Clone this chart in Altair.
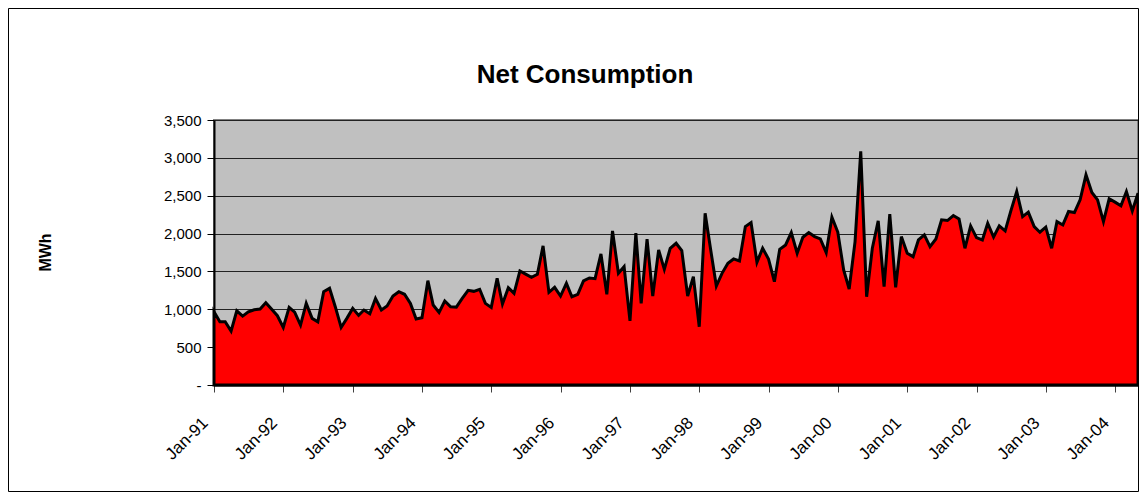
import altair as alt
import pandas as pd

# Monthly net consumption (MWh), Jan-1991 .. May-2004
values = [
    967, 835, 835, 712, 980, 910, 967, 994, 1003, 1087, 999, 915,          # 1991
    760, 1025, 963, 791, 1078, 880, 835, 1232, 1277, 1034, 760, 880,        # 1992
    1012, 920, 990, 940, 1144, 990, 1043, 1175, 1232, 1198, 1078, 871,      # 1993
    888, 1378, 1056, 959, 1109, 1034, 1029, 1144, 1250, 1237, 1264, 1078,   # 1994
    1025, 1410, 1069, 1285, 1211, 1506, 1465, 1423, 1462, 1837, 1224, 1290, # 1995
    1175, 1343, 1166, 1198, 1374, 1413, 1404, 1731, 1198, 2035, 1475, 1563, # 1996
    848, 2005, 1078, 1925, 1175, 1784, 1528, 1806, 1872, 1775, 1175, 1431,  # 1997
    769, 2269, 1806, 1307, 1475, 1608, 1665, 1638, 2092, 2145, 1621, 1806,  # 1998
    1665, 1364, 1793, 1850, 2013, 1740, 1952, 2013, 1960, 1929, 1748, 2216, # 1999
    2020, 1519, 1268, 1894, 3085, 1166, 1806, 2168, 1298, 2256, 1290, 1960, # 2000
    1740, 1695, 1916, 1982, 1828, 1929, 2181, 2172, 2238, 2194, 1806, 2101, # 2001
    1947, 1916, 2137, 1955, 2101, 2035, 2300, 2555, 2224, 2283, 2092, 2018, # 2002
    2084, 1806, 2158, 2114, 2291, 2277, 2445, 2776, 2542, 2445, 2158, 2459, # 2003
    2415, 2366, 2555, 2300, 2534,                                           # 2004
]
months = (
    pd.date_range("1991-01-01", periods=len(values), freq="MS")
    .strftime("%Y-%m-%dT00:00:00")
    .tolist()
)
tick_years = list(range(1991, 2005))
y_ticks = [0, 500, 1000, 1500, 2000, 2500, 3000, 3500]
title_text = "Net Consumption"
y_title = "MWh"

FONT = "Liberation Sans"

df = pd.DataFrame({"month": months, "mwh": values})

x_enc = alt.X(
    "month:T",
    scale=alt.Scale(
        domain=[
            alt.DateTime(year=1991, month=1, date=1),
            alt.DateTime(year=2004, month=5, date=1),
        ],
        nice=False,
    ),
    axis=alt.Axis(
        values=[alt.DateTime(year=y, month=1, date=1) for y in tick_years],
        format="%b-%y",
        labelAngle=-45,
        labelAlign="right",
        labelBaseline="middle",
        labelFont=FONT,
        labelFontSize=17,
        labelColor="black",
        labelPadding=28,
        labelOffset=-9,
        labelOverlap=False,
        labelFlush=False,
        tickSize=7,
        tickColor="#404040",
        tickWidth=1,
        domainColor="black",
        domainWidth=2,
        grid=False,
        title=None,
    ),
)

y_enc = alt.Y(
    "mwh:Q",
    scale=alt.Scale(domain=[0, 3500], nice=False),
    axis=alt.Axis(
        values=y_ticks,
        labelExpr="datum.value == 0 ? '-\u00a0' : format(datum.value, ',')",
        labelFont=FONT,
        labelFontSize=15,
        labelColor="black",
        labelPadding=6,
        tickSize=7,
        tickColor="black",
        tickWidth=1,
        domainColor="black",
        domainWidth=2,
        gridColor="#222222",
        gridWidth=1,
        title=y_title,
        titleFont=FONT,
        titleFontSize=16,
        titleFontWeight="bold",
        titleColor="black",
        titleAngle=270,
        titleAlign="center",
        titleBaseline="middle",
        titleX=-169,
        titleY=132,
    ),
)

area = alt.Chart(df).mark_area(
    color="#FF0000", stroke="black", strokeWidth=3, strokeJoin="miter"
).encode(x=x_enc, y=y_enc)

title_layer = alt.Chart(pd.DataFrame({"t": [title_text]})).mark_text(
    font=FONT, fontSize=26, fontWeight="bold", color="black",
    align="center", baseline="alphabetic",
).encode(x=alt.value(371), y=alt.value(-37), text="t:N")

border = alt.Chart(pd.DataFrame({"k": [0]})).mark_rect(
    fillOpacity=0, stroke="black", strokeWidth=1
).encode(
    x=alt.value(-205.5), x2=alt.value(924.5),
    y=alt.value(-111.5), y2=alt.value(371.5),
)

chart = (
    alt.layer(area, title_layer, border)
    .properties(
        width=924,
        height=265,
        padding={"left": 206, "top": 112, "right": 1, "bottom": 107},
        autosize=alt.AutoSizeParams(type="none"),
        background="white",
    )
    .configure_view(fill="#C0C0C0", stroke="#808080", strokeWidth=2)
)

chart.save("out.html", embed_options={"renderer": "svg", "actions": False})
